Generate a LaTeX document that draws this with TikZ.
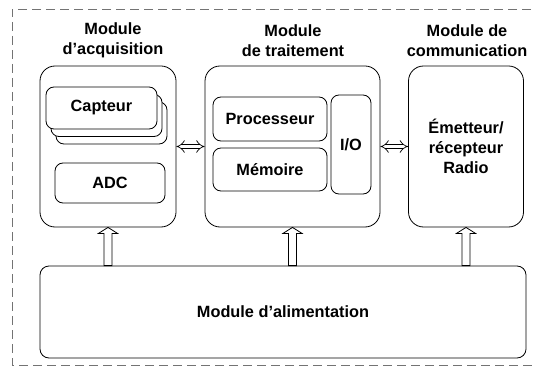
\documentclass[tikz,border=0pt]{standalone}
\usepackage{fontspec}
\setmainfont{Liberation Sans}
\usetikzlibrary{calc,positioning,arrows.meta}

\tikzset{
  box/.style={draw, line width=0.8pt, rounded corners=15pt, inner sep=0pt, align=center,
    font=\fontsize{16.3}{20}\selectfont\bfseries},
  part/.style={draw, line width=0.8pt, rounded corners=8pt, fill=white, inner sep=0pt,
    font=\fontsize{16.3}{20}\selectfont\bfseries},
  ttl/.style={align=center, inner sep=0pt, font=\fontsize{16.3}{19.5}\selectfont\bfseries},
  lnk/.style={double, double distance=3.8pt, line width=0.7pt, {Implies}-{Implies}},
  feed/.style={line width=0.8pt, fill=white, line join=miter},
}

\begin{document}
\begin{tikzpicture}[x=1pt,y=-1pt]
\useasboundingbox (0,0) rectangle (534,371);

% dashed frame (open on the right)
\draw[black!55, line width=0.8pt, dash pattern=on 9pt off 5pt] (545,9) -- (12,9) -- (12,365) -- (545,365);

% titles
\node[ttl] (tacq) at (113,40.5) {Module\\d’acquisition};
\node[ttl] (ttrt) at (293,40.5) {Module\\de traitement};
\node[ttl] (tcom) at (467,40.5) {Module de\\communication};

% modules
\node[box, minimum width=136, minimum height=161] (acq) at (108,146.5) {};
\node[box, minimum width=175, minimum height=161] (trt) at (292.5,146.5) {};
\node[box, minimum width=115, minimum height=161] (com) at (466,146.5) {Émetteur/\\récepteur\\Radio};
\node[part, rounded corners=9pt, minimum width=486, minimum height=92] (alim) at (283,312) {Module d’alimentation};

% acquisition
\foreach \d in {2,1} {
  \node[part, minimum width=111, minimum height=42] (cap\d) at (101.5+5*\d,108+7.5*\d) {};
}
\node[part, minimum width=111, minimum height=42] (cap) at (101.5,108) {Capteur};
\node[part, minimum width=110, minimum height=40] (adc) at (110,183) {ADC};

% traitement
\node[part, minimum width=114, minimum height=44] (proc) at (270,119) {Processeur};
\node[part, minimum width=114, minimum height=43] (mem) at (270,169.5) {Mémoire};
\node[part, minimum width=40, minimum height=99] (io) at (351,144.5) {I/O};

% links
\draw[lnk] (acq.east) -- (trt.west);
\draw[lnk] (trt.east) -- (com.west);

% power feeds
\foreach \m in {acq,trt,com} {
  \draw[feed] (\m.south) -- ++(9.5,6) -- ++(-5.5,0) -- ($(alim.north -| \m.south)+(4,0)$)
    -- ++(-8,0) -- ($(\m.south)+(-4,6)$) -- ++(-5.5,0) -- cycle;
}
\end{tikzpicture}
\end{document}
